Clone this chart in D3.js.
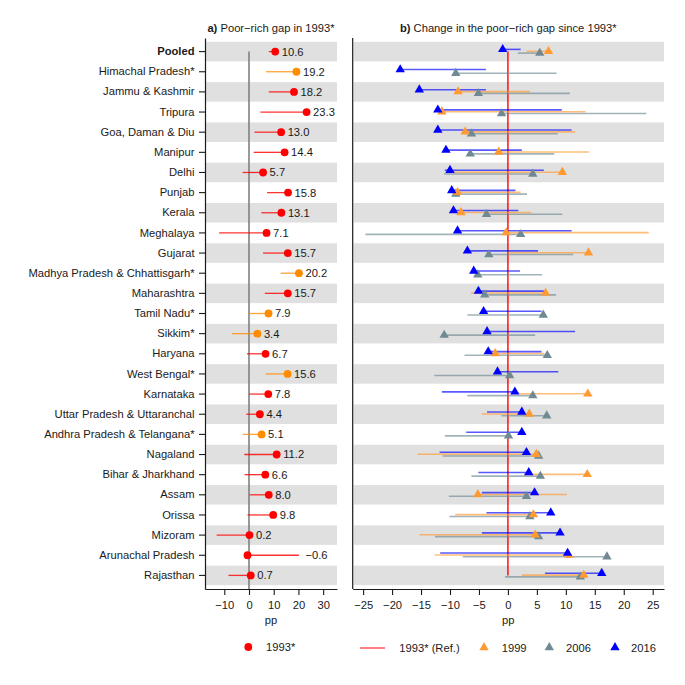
<!DOCTYPE html>
<html>
<head>
<meta charset="utf-8">
<script src="https://cdn.jsdelivr.net/npm/d3@7"></script>
<style>
  body { margin: 0; background: #fff; }
  text { font-family: "Liberation Sans", Arial, sans-serif; }
</style>
</head>
<body>
<div id="chart"></div>
<script>
// rows, top to bottom
const states = ['Pooled', 'Himachal Pradesh*', 'Jammu & Kashmir', 'Tripura', 'Goa, Daman & Diu',
  'Manipur', 'Delhi', 'Punjab', 'Kerala', 'Meghalaya', 'Gujarat', 'Madhya Pradesh & Chhattisgarh*',
  'Maharashtra', 'Tamil Nadu*', 'Sikkim*', 'Haryana', 'West Bengal*', 'Karnataka',
  'Uttar Pradesh & Uttaranchal', 'Andhra Pradesh & Telangana*', 'Nagaland', 'Bihar & Jharkhand',
  'Assam', 'Orissa', 'Mizoram', 'Arunachal Pradesh', 'Rajasthan'];

// a) gap in 1993 with interval
const gap1993 = [10.6, 19.2, 18.2, 23.3, 13.0, 14.4, 5.7, 15.8, 13.1, 7.1, 15.7, 20.2, 15.7, 7.9, 3.4,
  6.7, 15.6, 7.8, 4.4, 5.1, 11.2, 6.6, 8.0, 9.8, 0.2, -0.6, 0.7];
const lo1993 = [8.0, 6.9, 8.0, 4.6, 2.2, 1.9, -2.6, 7.3, 5.0, -12.1, 5.7, 12.8, 6.4, -0.1, -6.9,
  -0.8, 6.7, 0.1, -1.1, -2.5, -1.9, -1.8, 0.3, -0.6, -13.1, -0.6, -8.3];
const hi1993 = [10.6, 19.2, 18.2, 23.3, 13.0, 14.4, 5.7, 15.8, 13.1, 7.1, 15.7, 20.2, 15.7, 7.9, 3.4,
  6.7, 15.6, 7.8, 4.4, 5.1, 11.2, 6.6, 8.0, 9.8, 0.2, 20.2, 0.7];

// b) change since 1993
const chg1999 = [7.0, null, -8.6, -11.4, -7.4, -1.6, 9.4, -8.7, -8.1, -0.3, 13.9, null, 6.5, null, null,
  -2.2, null, 13.8, 3.7, null, 4.9, 13.7, -5.2, 4.4, 4.7, 10.5, 13.1];
const lo1999 = [3.2, null, -8.6, -11.4, -7.4, -1.6, -10.7, -8.7, -8.1, -0.3, 0.0, null, -6.4, null, null,
  -2.2, null, 2.0, -4.5, null, -15.6, 2.8, -5.2, -9.1, -15.3, -12.6, 2.4];
const hi1999 = [7.0, null, 3.8, 13.4, 11.6, 14.0, 9.4, 2.2, 4.0, 24.3, 13.9, null, 6.5, null, null,
  6.3, null, 13.8, 3.7, null, 4.9, 13.7, 10.2, 4.4, 4.7, 10.5, 13.1];

const chg2006 = [5.5, -9.0, -5.1, -1.1, -6.3, -6.5, 4.3, -9.0, -3.7, 2.2, -3.3, -5.2, -4.0, 6.1, -11.0,
  6.8, 0.3, 4.3, 6.7, 0.1, 5.3, 5.6, 3.2, 3.8, 5.3, 17.1, 12.5];
const lo2006 = [1.7, -9.0, -5.1, -1.1, -6.3, -6.5, -11.0, -9.0, -3.7, -24.6, -3.3, -5.2, -4.0, -7.0, -11.0,
  -7.5, -12.7, -7.0, -1.1, -10.9, -11.3, -6.3, -10.2, -10.1, -12.6, -7.8, -0.5];
const hi2006 = [5.5, 8.4, 10.7, 23.9, 8.6, 8.0, 4.3, 3.3, 9.4, 2.2, 11.3, 5.9, 8.3, 6.1, 4.7,
  6.8, 0.3, 4.3, 6.7, 0.1, 5.3, 5.6, 3.2, 3.8, 5.3, 17.1, 12.5];

const chg2016 = [-0.9, -18.6, -15.3, -12.1, -12.1, -10.7, -10.0, -9.7, -9.4, -8.7, -7.0, -5.9, -5.1, -4.2, -3.6,
  -3.4, -1.8, 1.2, 2.4, 2.4, 3.2, 3.6, 4.6, 7.4, 9.0, 10.3, 16.2];
const lo2016 = [-0.9, -18.6, -15.3, -12.1, -12.1, -10.7, -10.9, -9.7, -9.4, -8.7, -7.0, -5.9, -5.1, -4.2, -3.6,
  -3.4, -1.8, -11.4, -3.6, -7.2, -11.8, -5.1, -4.5, -3.7, -4.5, -11.7, 6.4];
const hi2016 = [2.2, -3.8, -3.8, 9.3, 11.0, 2.4, 6.2, 1.3, 1.8, 11.0, 5.2, 2.1, 6.4, 5.8, 11.6,
  5.8, 8.7, 1.2, 2.4, 2.4, 3.2, 3.6, 4.6, 7.4, 9.0, 10.3, 16.2];

const ticksA = [-10, 0, 10, 20, 30];
const ticksB = [-25, -20, -15, -10, -5, 0, 5, 10, 15, 20, 25];

const W = 685, H = 685;
const plotTop = 38, plotBottom = 589;
const fs = 11.2;
const ink = '#1a1a1a';
const red = '#ff0000', darkOrange = '#ff8c00';
const cols = { '1999': '#ff9a33', '2006': '#6f8a92', '2016': '#0000ff' };

const svg = d3.select('#chart').append('svg')
  .attr('width', W).attr('height', H)
  .style('font-size', fs + 'px');

const y = d3.scaleBand().domain(states).range([plotTop, plotBottom])
  .paddingInner(0.03).paddingOuter(0.19);
const yc = s => y(s) + y.bandwidth() / 2;

const xa = d3.scaleLinear().domain([-17.8, 35.6]).range([205, 337]);
const xb = d3.scaleLinear().domain([-26.8, 26.95]).range([352.7, 664]);

// grey bands
[xa, xb].forEach(x => {
  svg.append('g').selectAll('rect')
    .data(states.filter((d, i) => i % 2 == 0))
    .enter()
    .append('rect')
      .attr('x', x.range()[0] + 1)
      .attr('width', x.range()[1] - x.range()[0] - 1)
      .attr('y', d => y(d))
      .attr('height', y.bandwidth())
      .attr('fill', '#e0e0e0');
});

// ---- panel a ----
const gA = svg.append('g');
gA.append('line')
  .attr('x1', xa(0)).attr('x2', xa(0))
  .attr('y1', yc(states[0])).attr('y2', plotBottom)
  .attr('stroke', '#808080').attr('stroke-width', 1.6);

const colA = s => s.endsWith('*') ? darkOrange : red;

gA.selectAll('line.ci')
  .data(states)
  .enter()
  .append('line')
    .attr('class', 'ci')
    .attr('x1', (d, i) => xa(lo1993[i]))
    .attr('x2', (d, i) => xa(hi1993[i]))
    .attr('y1', d => yc(d)).attr('y2', d => yc(d))
    .attr('stroke', d => colA(d))
    .attr('stroke-opacity', 0.8)
    .attr('stroke-width', 1.3);

gA.selectAll('circle')
  .data(states)
  .enter()
  .append('circle')
    .attr('cx', (d, i) => xa(gap1993[i]))
    .attr('cy', d => yc(d))
    .attr('r', 3.9)
    .attr('fill', d => colA(d));

gA.selectAll('text.val')
  .data(states)
  .enter()
  .append('text')
    .attr('class', 'val')
    .attr('x', (d, i) => xa(Math.max(gap1993[i], hi1993[i])) + 6.5)
    .attr('y', d => yc(d))
    .attr('dy', '0.35em')
    .attr('fill', ink)
    .text((d, i) => d3.format('.1f')(gap1993[i]));

const axA = svg.append('g')
  .attr('transform', 'translate(205,0)')
  .call(d3.axisLeft(y).tickSize(6).tickPadding(4.5).tickSizeOuter(0));
axA.selectAll('text')
  .style('font-weight', d => d == 'Pooled' ? 'bold' : 'normal');

const axAb = svg.append('g')
  .attr('transform', `translate(0,${plotBottom})`)
  .call(d3.axisBottom(xa).tickValues(ticksA).tickSize(6).tickPadding(6).tickSizeOuter(0));

// ---- panel b ----
const gB = svg.append('g');
gB.append('line')
  .attr('x1', xb(0)).attr('x2', xb(0))
  .attr('y1', yc(states[0])).attr('y2', yc(states[states.length - 1]))
  .attr('stroke', red).attr('stroke-width', 1.4);

const series = [
  { key: '2006', v: chg2006, lo: lo2006, hi: hi2006, off: 1.5 },
  { key: '1999', v: chg1999, lo: lo1999, hi: hi1999, off: -0.3 },
  { key: '2016', v: chg2016, lo: lo2016, hi: hi2016, off: -2.2 }
];

series.forEach(s => {
  gB.append('g').selectAll('line')
    .data(states.filter((d, i) => s.v[i] != null))
    .enter()
    .append('line')
      .attr('x1', d => xb(s.lo[states.indexOf(d)]))
      .attr('x2', d => xb(s.hi[states.indexOf(d)]))
      .attr('y1', d => yc(d) + s.off).attr('y2', d => yc(d) + s.off)
      .attr('stroke', cols[s.key])
      .attr('stroke-opacity', 0.65)
      .attr('stroke-width', 1.6);
});

const tri = d3.symbol(d3.symbolTriangle).size(38);
series.forEach(s => {
  gB.append('g').selectAll('path')
    .data(states.filter((d, i) => s.v[i] != null))
    .enter()
    .append('path')
      .attr('d', tri)
      .attr('transform', d => `translate(${xb(s.v[states.indexOf(d)])},${yc(d) + s.off})`)
      .attr('fill', cols[s.key]);
});

svg.append('line')
  .attr('x1', 352.7).attr('x2', 352.7)
  .attr('y1', plotTop).attr('y2', plotBottom)
  .attr('stroke', ink).attr('stroke-width', 1.2);

const axBb = svg.append('g')
  .attr('transform', `translate(0,${plotBottom})`)
  .call(d3.axisBottom(xb).tickValues(ticksB).tickSize(6).tickPadding(6).tickSizeOuter(0));

[axA, axAb, axBb].forEach(a => {
  a.selectAll('path.domain').attr('stroke', ink).attr('stroke-width', 1.2);
  a.selectAll('.tick line').attr('stroke', ink).attr('stroke-width', 1.1);
  a.selectAll('text').style('font-size', fs + 'px').attr('fill', ink)
    .style('font-family', '"Liberation Sans", Arial, sans-serif');
});

// titles & axis names
const tA = svg.append('text').attr('x', 271).attr('y', 32).attr('text-anchor', 'middle').attr('fill', ink);
tA.append('tspan').style('font-weight', 'bold').text('a)');
tA.append('tspan').text(' Poor\u2212rich gap in 1993*');
const tB = svg.append('text').attr('x', 508.3).attr('y', 32).attr('text-anchor', 'middle').attr('fill', ink);
tB.append('tspan').style('font-weight', 'bold').text('b)');
tB.append('tspan').text(' Change in the poor\u2212rich gap since 1993*');

svg.append('text').attr('x', 271).attr('y', 624).attr('text-anchor', 'middle').attr('fill', ink).text('pp');
svg.append('text').attr('x', 508.3).attr('y', 624).attr('text-anchor', 'middle').attr('fill', ink).text('pp');

// legends
const ly = 647;
svg.append('circle').attr('cx', 248.3).attr('cy', ly).attr('r', 3.9).attr('fill', red);
svg.append('text').attr('x', 266).attr('y', ly).attr('dy', '0.35em').attr('fill', ink).text('1993*');

svg.append('line').attr('x1', 360).attr('x2', 385).attr('y1', ly + 1).attr('y2', ly + 1)
  .attr('stroke', red).attr('stroke-opacity', 0.7).attr('stroke-width', 1.4);
svg.append('text').attr('x', 399.3).attr('y', ly + 1).attr('dy', '0.35em').attr('fill', ink).text('1993* (Ref.)');

const legB = [['1999', 484, 501.7], ['2006', 549.3, 566], ['2016', 615, 631]];
legB.forEach(l => {
  svg.append('path').attr('d', tri)
    .attr('transform', `translate(${l[1]},${ly + 0.5})`)
    .attr('fill', cols[l[0]]);
  svg.append('text').attr('x', l[2]).attr('y', ly + 1).attr('dy', '0.35em').attr('fill', ink).text(l[0]);
});
</script>
</body>
</html>
